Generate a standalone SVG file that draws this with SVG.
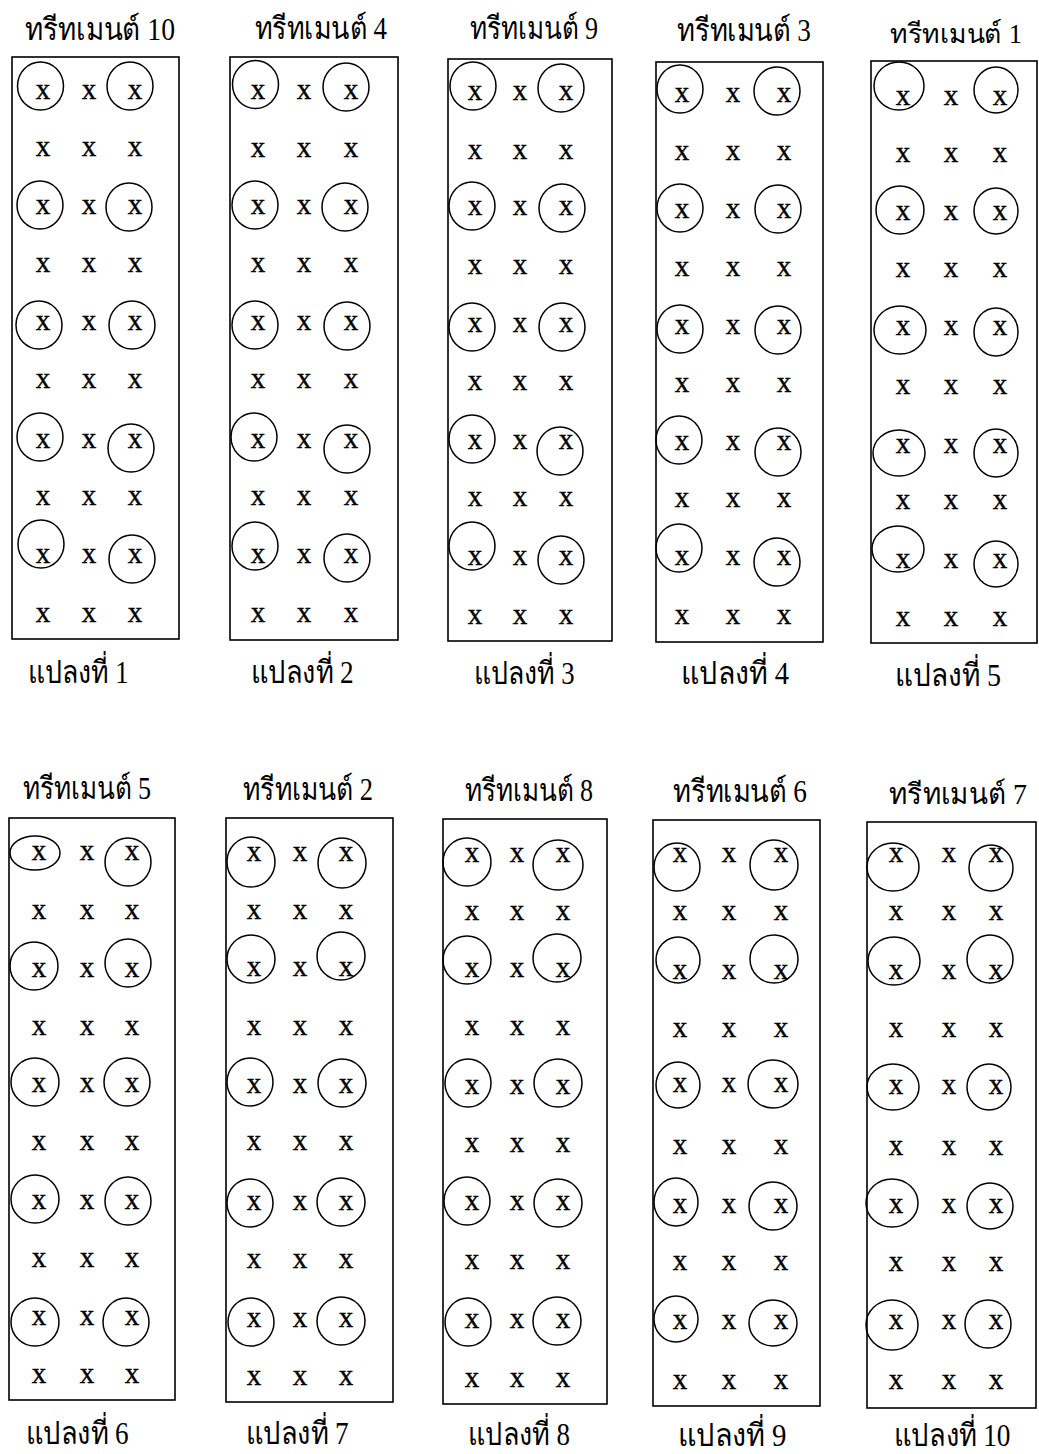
<svg xmlns="http://www.w3.org/2000/svg" width="1039" height="1454" viewBox="0 0 1039 1454">
<style>
.bg{fill:#fff}
.box{fill:none;stroke:#000;stroke-width:1.6}
.c{fill:none;stroke:#000;stroke-width:1.5}
.x{font-family:"Liberation Serif","DejaVu Serif",serif;font-size:29px;fill:#000;stroke:#000;stroke-width:0.4;text-anchor:middle}
.t{font-family:"Liberation Serif","DejaVu Serif",serif;font-size:31px;fill:#000;text-anchor:middle}
</style>
<rect class="bg" x="0" y="0" width="1039" height="1454"/>

<g id="plot1">
<text class="t" x="100" y="40" textLength="150" lengthAdjust="spacingAndGlyphs">ทรีทเมนต์ 10</text>
<rect class="box" x="12" y="57" width="167" height="582"/>
<text class="x" x="43 89 135" y="99">xxx</text>
<text class="x" x="43 89 135" y="156">xxx</text>
<text class="x" x="43 89 135" y="214">xxx</text>
<text class="x" x="43 89 135" y="272">xxx</text>
<text class="x" x="43 89 135" y="330">xxx</text>
<text class="x" x="43 89 135" y="388">xxx</text>
<text class="x" x="43 89 135" y="448">xxx</text>
<text class="x" x="43 89 135" y="505">xxx</text>
<text class="x" x="43 89 135" y="563">xxx</text>
<text class="x" x="43 89 135" y="622">xxx</text>
<ellipse class="c" cx="40.5" cy="86" rx="23" ry="24"/><ellipse class="c" cx="130" cy="86" rx="23" ry="24"/>
<ellipse class="c" cx="40" cy="205" rx="23" ry="24"/><ellipse class="c" cx="129" cy="207" rx="23" ry="24"/>
<ellipse class="c" cx="39" cy="325" rx="23" ry="24"/><ellipse class="c" cx="132" cy="325" rx="23" ry="24"/>
<ellipse class="c" cx="40" cy="437" rx="23" ry="24"/><ellipse class="c" cx="131" cy="448" rx="23" ry="24"/>
<ellipse class="c" cx="41" cy="544" rx="23" ry="24"/><ellipse class="c" cx="132" cy="559" rx="23" ry="24"/>
<text class="t" x="78" y="683" textLength="101" lengthAdjust="spacingAndGlyphs">แปลงที่ 1</text>
</g>

<g id="plot2">
<text class="t" x="321" y="39" textLength="132" lengthAdjust="spacingAndGlyphs">ทรีทเมนต์ 4</text>
<rect class="box" x="230" y="57" width="168" height="583"/>
<text class="x" x="258 304 351" y="99">xxx</text>
<text class="x" x="258 304 351" y="157">xxx</text>
<text class="x" x="258 304 351" y="214">xxx</text>
<text class="x" x="258 304 351" y="272">xxx</text>
<text class="x" x="258 304 351" y="330">xxx</text>
<text class="x" x="258 304 351" y="388">xxx</text>
<text class="x" x="258 304 351" y="448">xxx</text>
<text class="x" x="258 304 351" y="505">xxx</text>
<text class="x" x="258 304 351" y="563">xxx</text>
<text class="x" x="258 304 351" y="622">xxx</text>
<ellipse class="c" cx="255.5" cy="84.5" rx="23" ry="24"/><ellipse class="c" cx="346" cy="87" rx="23" ry="24"/>
<ellipse class="c" cx="255" cy="205" rx="23" ry="24"/><ellipse class="c" cx="345" cy="207" rx="23" ry="24"/>
<ellipse class="c" cx="255" cy="325" rx="23" ry="24"/><ellipse class="c" cx="347" cy="326" rx="23" ry="24"/>
<ellipse class="c" cx="254" cy="437" rx="23" ry="24"/><ellipse class="c" cx="347" cy="449" rx="23" ry="24"/>
<ellipse class="c" cx="255" cy="546" rx="23" ry="24"/><ellipse class="c" cx="347" cy="558" rx="23" ry="24"/>
<text class="t" x="302" y="683" textLength="103" lengthAdjust="spacingAndGlyphs">แปลงที่ 2</text>
</g>

<g id="plot3">
<text class="t" x="534" y="39" textLength="128" lengthAdjust="spacingAndGlyphs">ทรีทเมนต์ 9</text>
<rect class="box" x="448" y="59" width="164" height="582"/>
<text class="x" x="475 520 566" y="100">xxx</text>
<text class="x" x="475 520 566" y="159">xxx</text>
<text class="x" x="475 520 566" y="215">xxx</text>
<text class="x" x="475 520 566" y="274">xxx</text>
<text class="x" x="475 520 566" y="332">xxx</text>
<text class="x" x="475 520 566" y="390">xxx</text>
<text class="x" x="475 520 566" y="449">xxx</text>
<text class="x" x="475 520 566" y="506">xxx</text>
<text class="x" x="475 520 566" y="565">xxx</text>
<text class="x" x="475 520 566" y="624">xxx</text>
<ellipse class="c" cx="473" cy="86" rx="23" ry="24"/><ellipse class="c" cx="561" cy="88" rx="23" ry="24"/>
<ellipse class="c" cx="472" cy="206" rx="23" ry="24"/><ellipse class="c" cx="562" cy="208" rx="23" ry="24"/>
<ellipse class="c" cx="472" cy="327" rx="23" ry="24"/><ellipse class="c" cx="562" cy="327" rx="23" ry="24"/>
<ellipse class="c" cx="472" cy="439" rx="23" ry="24"/><ellipse class="c" cx="560" cy="451" rx="23" ry="24"/>
<ellipse class="c" cx="472" cy="546" rx="23" ry="24"/><ellipse class="c" cx="561" cy="560" rx="23" ry="24"/>
<text class="t" x="524" y="684" textLength="101" lengthAdjust="spacingAndGlyphs">แปลงที่ 3</text>
</g>

<g id="plot4">
<text class="t" x="744" y="41" textLength="134" lengthAdjust="spacingAndGlyphs">ทรีทเมนต์ 3</text>
<rect class="box" x="656" y="62" width="167" height="580"/>
<text class="x" x="682 733 784" y="102">xxx</text>
<text class="x" x="682 733 784" y="160">xxx</text>
<text class="x" x="682 733 784" y="218">xxx</text>
<text class="x" x="682 733 784" y="276">xxx</text>
<text class="x" x="682 733 784" y="334">xxx</text>
<text class="x" x="682 733 784" y="392">xxx</text>
<text class="x" x="682 733 784" y="450">xxx</text>
<text class="x" x="682 733 784" y="507">xxx</text>
<text class="x" x="682 733 784" y="565">xxx</text>
<text class="x" x="682 733 784" y="624">xxx</text>
<ellipse class="c" cx="680" cy="89" rx="23" ry="24"/><ellipse class="c" cx="777" cy="91" rx="23" ry="24"/>
<ellipse class="c" cx="680" cy="208" rx="23" ry="24"/><ellipse class="c" cx="778" cy="209" rx="23" ry="24"/>
<ellipse class="c" cx="680" cy="329" rx="23" ry="24"/><ellipse class="c" cx="778" cy="330" rx="23" ry="24"/>
<ellipse class="c" cx="679" cy="440" rx="23" ry="24"/><ellipse class="c" cx="778" cy="452" rx="23" ry="24"/>
<ellipse class="c" cx="679" cy="548" rx="23" ry="24"/><ellipse class="c" cx="777" cy="562" rx="23" ry="24"/>
<text class="t" x="735" y="684" textLength="108" lengthAdjust="spacingAndGlyphs">แปลงที่ 4</text>
</g>

<g id="plot5">
<text class="t" x="956" y="43" font-size="27" textLength="132" lengthAdjust="spacingAndGlyphs" style="font-size:27px">ทรีทเมนต์ 1</text>
<rect class="box" x="871" y="61" width="166" height="582"/>
<text class="x" x="903 951 1000" y="105">xxx</text>
<text class="x" x="903 951 1000" y="162">xxx</text>
<text class="x" x="903 951 1000" y="220">xxx</text>
<text class="x" x="903 951 1000" y="277">xxx</text>
<text class="x" x="903 951 1000" y="335">xxx</text>
<text class="x" x="903 951 1000" y="394">xxx</text>
<text class="x" x="903 951 1000" y="453">xxx</text>
<text class="x" x="903 951 1000" y="509">xxx</text>
<text class="x" x="903 951 1000" y="568">xxx</text>
<text class="x" x="903 951 1000" y="626">xxx</text>
<ellipse class="c" cx="899" cy="86" rx="25" ry="24"/><ellipse class="c" cx="996" cy="90" rx="22" ry="23"/>
<ellipse class="c" cx="900" cy="210" rx="24" ry="24"/><ellipse class="c" cx="996" cy="211" rx="22" ry="23"/>
<ellipse class="c" cx="900" cy="330" rx="26" ry="24"/><ellipse class="c" cx="996" cy="332" rx="22" ry="24"/>
<ellipse class="c" cx="899" cy="453" rx="26" ry="23"/><ellipse class="c" cx="996" cy="453" rx="22" ry="24"/>
<ellipse class="c" cx="898" cy="549" rx="26" ry="23"/><ellipse class="c" cx="996" cy="564" rx="22" ry="23"/>
<text class="t" x="948" y="686" textLength="106" lengthAdjust="spacingAndGlyphs">แปลงที่ 5</text>
</g>

<g id="plot6">
<text class="t" x="87" y="799" textLength="128" lengthAdjust="spacingAndGlyphs">ทรีทเมนต์ 5</text>
<rect class="box" x="9" y="818" width="166" height="582"/>
<text class="x" x="39 87 132" y="860">xxx</text>
<text class="x" x="39 87 132" y="919">xxx</text>
<text class="x" x="39 87 132" y="977">xxx</text>
<text class="x" x="39 87 132" y="1035">xxx</text>
<text class="x" x="39 87 132" y="1092">xxx</text>
<text class="x" x="39 87 132" y="1150">xxx</text>
<text class="x" x="39 87 132" y="1209">xxx</text>
<text class="x" x="39 87 132" y="1267">xxx</text>
<text class="x" x="39 87 132" y="1325">xxx</text>
<text class="x" x="39 87 132" y="1383">xxx</text>
<ellipse class="c" cx="35" cy="853" rx="25" ry="17"/><ellipse class="c" cx="128" cy="862" rx="23" ry="24"/>
<ellipse class="c" cx="34" cy="966" rx="24" ry="24"/><ellipse class="c" cx="128" cy="963" rx="23" ry="24"/>
<ellipse class="c" cx="35" cy="1082" rx="24" ry="24"/><ellipse class="c" cx="127" cy="1082" rx="23" ry="24"/>
<ellipse class="c" cx="35" cy="1199" rx="24" ry="24"/><ellipse class="c" cx="128" cy="1201" rx="23" ry="24"/>
<ellipse class="c" cx="35" cy="1322" rx="24" ry="24"/><ellipse class="c" cx="126" cy="1322" rx="23" ry="24"/>
<text class="t" x="77" y="1444" textLength="103" lengthAdjust="spacingAndGlyphs">แปลงที่ 6</text>
</g>

<g id="plot7">
<text class="t" x="308" y="800" textLength="130" lengthAdjust="spacingAndGlyphs">ทรีทเมนต์ 2</text>
<rect class="box" x="226" y="818" width="167" height="584"/>
<text class="x" x="254 300 346" y="861">xxx</text>
<text class="x" x="254 300 346" y="919">xxx</text>
<text class="x" x="254 300 346" y="976">xxx</text>
<text class="x" x="254 300 346" y="1035">xxx</text>
<text class="x" x="254 300 346" y="1093">xxx</text>
<text class="x" x="254 300 346" y="1150">xxx</text>
<text class="x" x="254 300 346" y="1210">xxx</text>
<text class="x" x="254 300 346" y="1268">xxx</text>
<text class="x" x="254 300 346" y="1327">xxx</text>
<text class="x" x="254 300 346" y="1385">xxx</text>
<ellipse class="c" cx="251" cy="862" rx="24" ry="25"/><ellipse class="c" cx="342" cy="863" rx="24" ry="25"/>
<ellipse class="c" cx="251" cy="959" rx="24" ry="24"/><ellipse class="c" cx="341" cy="956" rx="24" ry="24"/>
<ellipse class="c" cx="250" cy="1082" rx="23" ry="24"/><ellipse class="c" cx="342" cy="1083" rx="24" ry="24"/>
<ellipse class="c" cx="250" cy="1203" rx="23" ry="24"/><ellipse class="c" cx="341" cy="1202" rx="24" ry="24"/>
<ellipse class="c" cx="251" cy="1322" rx="23" ry="24"/><ellipse class="c" cx="341" cy="1321" rx="24" ry="24"/>
<text class="t" x="297" y="1444" textLength="103" lengthAdjust="spacingAndGlyphs">แปลงที่ 7</text>
</g>

<g id="plot8">
<text class="t" x="529" y="801" textLength="128" lengthAdjust="spacingAndGlyphs">ทรีทเมนต์ 8</text>
<rect class="box" x="443" y="819" width="164" height="585"/>
<text class="x" x="472 517 563" y="862">xxx</text>
<text class="x" x="472 517 563" y="920">xxx</text>
<text class="x" x="472 517 563" y="977">xxx</text>
<text class="x" x="472 517 563" y="1035">xxx</text>
<text class="x" x="472 517 563" y="1094">xxx</text>
<text class="x" x="472 517 563" y="1152">xxx</text>
<text class="x" x="472 517 563" y="1210">xxx</text>
<text class="x" x="472 517 563" y="1269">xxx</text>
<text class="x" x="472 517 563" y="1328">xxx</text>
<text class="x" x="472 517 563" y="1387">xxx</text>
<ellipse class="c" cx="467" cy="862" rx="24" ry="24"/><ellipse class="c" cx="558" cy="865" rx="25" ry="25"/>
<ellipse class="c" cx="467" cy="960" rx="24" ry="24"/><ellipse class="c" cx="557" cy="958" rx="24" ry="24"/>
<ellipse class="c" cx="468" cy="1083" rx="23" ry="24"/><ellipse class="c" cx="558" cy="1083" rx="24" ry="24"/>
<ellipse class="c" cx="467" cy="1201" rx="23" ry="24"/><ellipse class="c" cx="558" cy="1203" rx="24" ry="24"/>
<ellipse class="c" cx="468" cy="1322" rx="23" ry="24"/><ellipse class="c" cx="557" cy="1321" rx="24" ry="24"/>
<text class="t" x="519" y="1445" textLength="102" lengthAdjust="spacingAndGlyphs">แปลงที่ 8</text>
</g>

<g id="plot9">
<text class="t" x="740" y="802" textLength="134" lengthAdjust="spacingAndGlyphs">ทรีทเมนต์ 6</text>
<rect class="box" x="653" y="820" width="167" height="586"/>
<text class="x" x="680 729 781" y="862">xxx</text>
<text class="x" x="680 729 781" y="920">xxx</text>
<text class="x" x="680 729 781" y="979">xxx</text>
<text class="x" x="680 729 781" y="1037">xxx</text>
<text class="x" x="680 729 781" y="1092">xxx</text>
<text class="x" x="680 729 781" y="1154">xxx</text>
<text class="x" x="680 729 781" y="1213">xxx</text>
<text class="x" x="680 729 781" y="1270">xxx</text>
<text class="x" x="680 729 781" y="1329">xxx</text>
<text class="x" x="680 729 781" y="1389">xxx</text>
<ellipse class="c" cx="677" cy="867" rx="23" ry="24"/><ellipse class="c" cx="774" cy="865" rx="24" ry="25"/>
<ellipse class="c" cx="678" cy="960" rx="22" ry="23"/><ellipse class="c" cx="774" cy="959" rx="24" ry="24"/>
<ellipse class="c" cx="678" cy="1085" rx="22" ry="23"/><ellipse class="c" cx="773" cy="1084" rx="25" ry="24"/>
<ellipse class="c" cx="676" cy="1202" rx="22" ry="24"/><ellipse class="c" cx="773" cy="1206" rx="24" ry="24"/>
<ellipse class="c" cx="676" cy="1319" rx="22" ry="23"/><ellipse class="c" cx="773" cy="1323" rx="24" ry="23"/>
<text class="t" x="732" y="1446" textLength="109" lengthAdjust="spacingAndGlyphs">แปลงที่ 9</text>
</g>

<g id="plot10">
<text class="t" x="958" y="804" textLength="138" lengthAdjust="spacingAndGlyphs" style="font-size:29px">ทรีทเมนต์ 7</text>
<rect class="box" x="867" y="822" width="169" height="586"/>
<text class="x" x="896 949 996" y="862">xxx</text>
<text class="x" x="896 949 996" y="920">xxx</text>
<text class="x" x="896 949 996" y="979">xxx</text>
<text class="x" x="896 949 996" y="1037">xxx</text>
<text class="x" x="896 949 996" y="1094">xxx</text>
<text class="x" x="896 949 996" y="1155">xxx</text>
<text class="x" x="896 949 996" y="1213">xxx</text>
<text class="x" x="896 949 996" y="1271">xxx</text>
<text class="x" x="896 949 996" y="1329">xxx</text>
<text class="x" x="896 949 996" y="1389">xxx</text>
<ellipse class="c" cx="893" cy="867" rx="26" ry="24"/><ellipse class="c" cx="991" cy="868" rx="22" ry="23"/>
<ellipse class="c" cx="894" cy="961" rx="26" ry="24"/><ellipse class="c" cx="990" cy="959" rx="23" ry="24"/>
<ellipse class="c" cx="893" cy="1087" rx="26" ry="23"/><ellipse class="c" cx="989" cy="1087" rx="22" ry="23"/>
<ellipse class="c" cx="892" cy="1203" rx="26" ry="24"/><ellipse class="c" cx="990" cy="1206" rx="23" ry="23"/>
<ellipse class="c" cx="892" cy="1325" rx="26" ry="25"/><ellipse class="c" cx="988" cy="1324" rx="23" ry="24"/>
<text class="t" x="952" y="1446" textLength="117" lengthAdjust="spacingAndGlyphs">แปลงที่ 10</text>
</g>

<g id="connectors"></g>
</svg>
